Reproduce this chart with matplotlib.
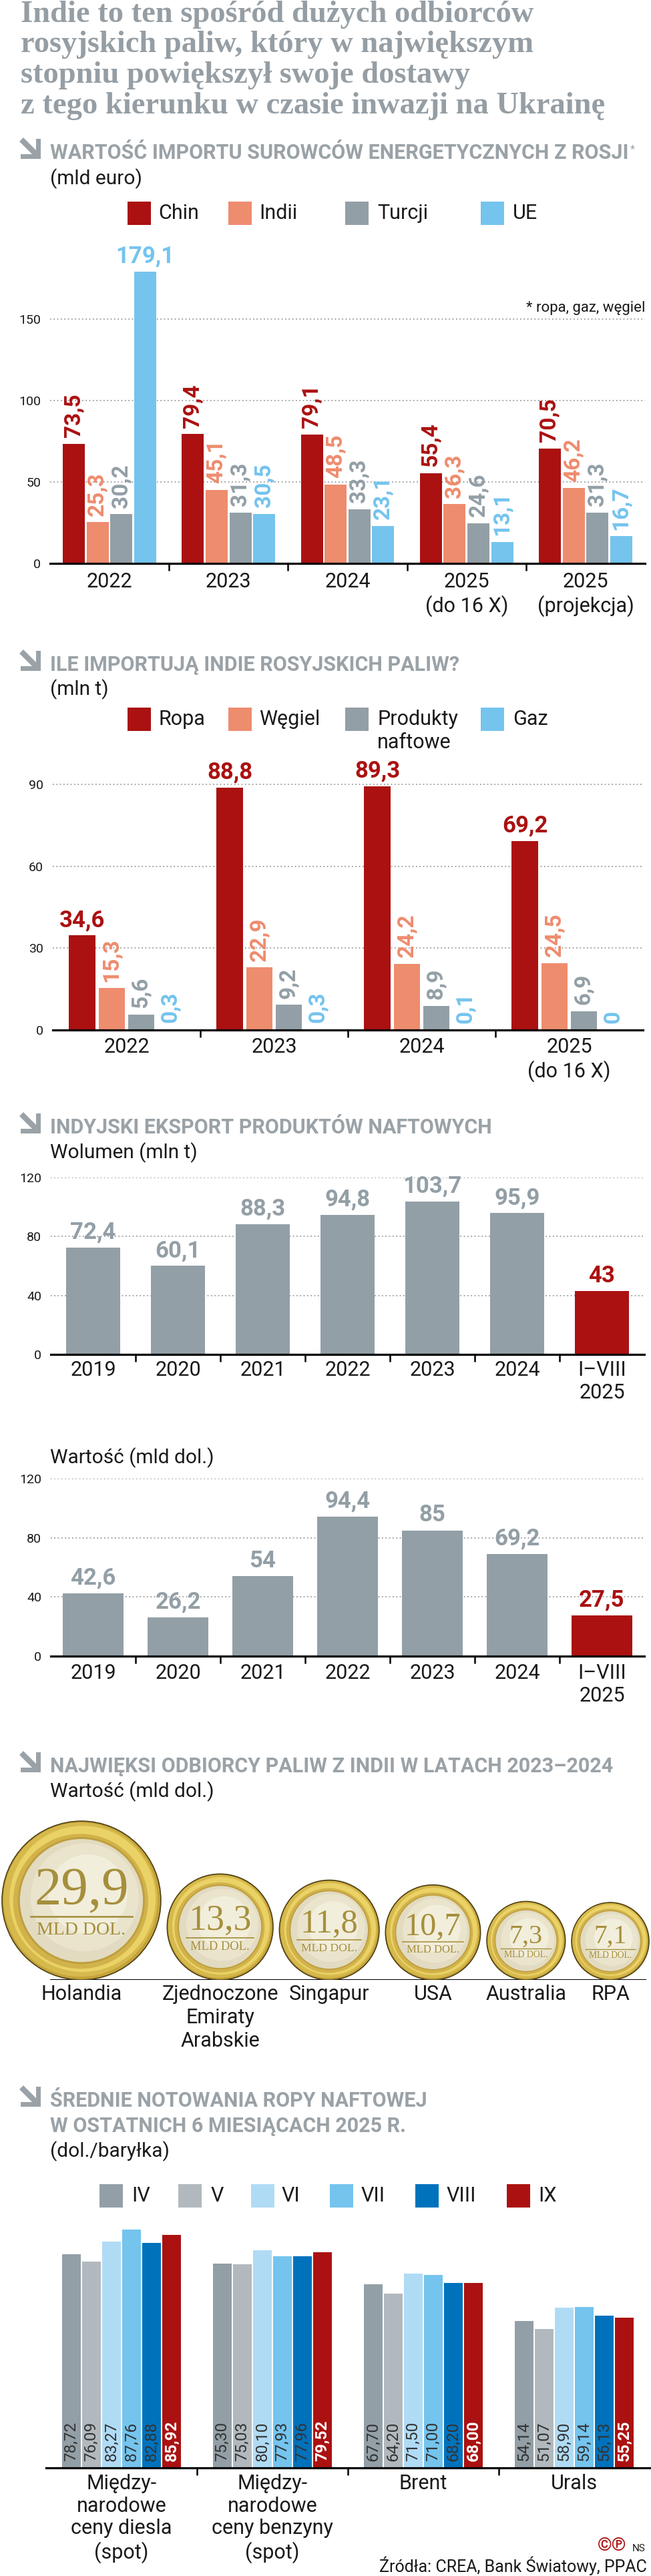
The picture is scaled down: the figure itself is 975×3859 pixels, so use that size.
import numpy as np
import matplotlib
matplotlib.use('Agg')
import matplotlib.pyplot as plt
from matplotlib import font_manager
from matplotlib.patches import Circle, Rectangle, Polygon

# ---------------------------------------------------------------- data
import_years = ['2022', '2023', '2024', '2025\n(do 16 X)', '2025\n(projekcja)']
import_names = ['Chin', 'Indii', 'Turcji', 'UE']
import_chin = [73.5, 79.4, 79.1, 55.4, 70.5]
import_indii = [25.3, 45.1, 48.5, 36.3, 46.2]
import_turcji = [30.2, 31.3, 33.3, 24.6, 31.3]
import_ue = [179.1, 30.5, 23.1, 13.1, 16.7]

india_years = ['2022', '2023', '2024', '2025\n(do 16 X)']
india_names = ['Ropa', 'Węgiel', 'Produkty\nnaftowe', 'Gaz']
india_ropa = [34.6, 88.8, 89.3, 69.2]
india_wegiel = [15.3, 22.9, 24.2, 24.5]
india_produkty = [5.6, 9.2, 8.9, 6.9]
india_gaz = [0.3, 0.3, 0.1, 0]

export_years = ['2019', '2020', '2021', '2022', '2023', '2024', 'I–VIII\n2025']
export_volume = [72.4, 60.1, 88.3, 94.8, 103.7, 95.9, 43]
export_value = [42.6, 26.2, 54, 94.4, 85, 69.2, 27.5]

buyers = ['Holandia', 'Zjednoczone\nEmiraty\nArabskie', 'Singapur', 'USA', 'Australia', 'RPA']
buyer_values = [29.9, 13.3, 11.8, 10.7, 7.3, 7.1]

months = ['IV', 'V', 'VI', 'VII', 'VIII', 'IX']
products = ['Między-\nnarodowe\nceny diesla\n(spot)', 'Między-\nnarodowe\nceny benzyny\n(spot)',
            'Brent', 'Urals']
price_iv = [78.72, 75.30, 67.70, 54.14]
price_v = [76.09, 75.03, 64.20, 51.07]
price_vi = [83.27, 80.10, 71.50, 58.90]
price_vii = [87.76, 77.93, 71.00, 59.14]
price_viii = [82.88, 77.96, 68.20, 56.13]
price_ix = [85.92, 79.52, 68.00, 55.25]

# ---------------------------------------------------------------- style
installed = {f.name for f in font_manager.fontManager.ttflist}
SANS = 'Roboto' if 'Roboto' in installed else 'DejaVu Sans'
SERIF = 'Liberation Serif' if 'Liberation Serif' in installed else 'DejaVu Serif'
plt.rcParams['font.family'] = [SANS, 'DejaVu Sans']

RED = '#ab1111'
SALMON = '#ee8c6e'
GRAY = '#939fa6'
LBLUE = '#74c4ee'
HEAD = '#9aa2a7'
TEXT = '#1a1a1a'
GOLD_TXT = '#a68f3c'
month_colors = [GRAY, '#b1b9be', '#b0dbf5', LBLUE, '#0072bc', RED]

W, H, DPI = 975, 3859, 100
PT = 72 / DPI  # points per pixel

fig = plt.figure(figsize=(W / DPI, H / DPI), dpi=DPI)
fig.patch.set_facecolor('white')

# full-page layer in pixel units for titles, legends, icons
bg = fig.add_axes([0, 0, 1, 1])
bg.set_xlim(0, W)
bg.set_ylim(H, 0)
bg.axis('off')


def fmt(v, nd=1):
    if nd == 1 and float(v).is_integer():
        return str(int(v))
    return f'{v:.{nd}f}'.replace('.', ',')


def px_axes(left, top, right, bottom):
    ax = fig.add_axes([left / W, 1 - bottom / H, (right - left) / W, (bottom - top) / H])
    ax.patch.set_alpha(0)
    return ax


def arrow_icon(x, y, s=30):
    t = 0.24 * s
    bg.add_patch(Polygon([(x + s, y), (x + s, y + s), (x, y + s), (x, y + s - t),
                          (x + s - t, y + s - t), (x + s - t, y)],
                         closed=True, fc=HEAD, ec='none'))
    bg.plot([x + 1, x + s - t], [y + 1, y + s - t], color=HEAD, lw=6,
            solid_capstyle='butt')


def heading(y, lines, sub=None, sub_y=None):
    arrow_icon(31, y - 30)
    texts = []
    for i, line in enumerate(lines):
        texts.append(bg.text(75, y + i * 38, line, fontsize=22, fontweight='bold',
                             color=HEAD, va='baseline'))
    if sub:
        bg.text(75, sub_y, sub, fontsize=21.5, color=TEXT, va='baseline')
    return texts


def legend_row(box_x, lab_x, top, labels, colors, size=35):
    for xb, xl, lab, c in zip(box_x, lab_x, labels, colors):
        bg.add_patch(Rectangle((xb, top), size, size, fc=c, ec='none'))
        for i, part in enumerate(lab.split('\n')):
            bg.text(xl, top + size / 2 + i * 35, part, fontsize=22, color=TEXT,
                    va='center')


def base_axis(ax, cats, ylim, yticks, pad_px):
    n = len(cats)
    ax.set_xlim(-0.5, n - 0.5)
    ax.set_ylim(*ylim)
    for s in ax.spines.values():
        s.set_visible(False)
    ax.axhline(0, color='black', lw=2.3, zorder=6, clip_on=False)
    ax.set_xticks(range(n))
    ax.set_xticklabels(cats, fontsize=22, color=TEXT, linespacing=1.2)
    ax.set_xticks(np.arange(n - 1) + 0.5, minor=True)
    ax.tick_params(axis='x', which='major', length=0, pad=pad_px * PT)
    ax.tick_params(axis='x', which='minor', length=8, width=1.8, color='black')
    if yticks:
        ax.set_yticks(yticks)
        ax.set_yticklabels([str(t) for t in yticks])
        ax.tick_params(axis='y', length=0, labelsize=14, labelcolor=TEXT, pad=10)
        ax.grid(axis='y', linestyle=(0, (1, 2.2)), color='#8c8c8c', lw=1.2)
        ax.set_axisbelow(True)
    else:
        ax.set_yticks([])


def label_rot(ax, x, v, c, size=24, weight='bold', inside=False):
    ax.annotate(fmt(v, 2 if inside else 1), (x, 0 if inside else v),
                xytext=(0, 7), textcoords='offset points',
                rotation=90, ha='center', va='bottom', fontsize=size,
                fontweight=weight, color=c, annotation_clip=False, zorder=7)


def label_flat(ax, x, v, c, size=25):
    ax.annotate(fmt(v), (x, v), xytext=(0, 4.5), textcoords='offset points',
                ha='center', va='bottom', fontsize=size, fontweight='bold',
                color=c, annotation_clip=False, zorder=7)


# ---------------------------------------------------------------- title
title_lines = ['Indie to ten spośród dużych odbiorców',
               'rosyjskich paliw, który w największym',
               'stopniu powiększył swoje dostawy',
               'z tego kierunku w czasie inwazji na Ukrainę']
for i, line in enumerate(title_lines):
    bg.text(31, 33 + i * 45.5, line, fontsize=33.5, fontweight='bold',
            family=SERIF, color='#959ea4', va='baseline')

# ---------------------------------------------------------------- chart 1
h1 = heading(238, ['WARTOŚĆ IMPORTU SUROWCÓW ENERGETYCZNYCH Z ROSJI'],
             '(mld euro)', 276)
legend_row([191, 342, 517, 720], [237, 388, 565, 768], 302, import_names,
           [RED, SALMON, GRAY, LBLUE])
bg.text(966, 467, '* ropa, gaz, węgiel', fontsize=16, color=TEXT, ha='right',
        va='baseline')

ax1 = px_axes(75, 356, 966, 844)
base_axis(ax1, import_years, (0, 200), [0, 50, 100, 150], 13)
x1 = np.arange(len(import_years))
for k, (vals, c) in enumerate(zip([import_chin, import_indii, import_turcji, import_ue],
                                  [RED, SALMON, GRAY, LBLUE])):
    xs = x1 + (k - 1.5) * 0.2
    ax1.bar(xs, vals, width=0.185, color=c, zorder=2)
    for xi, v in zip(xs, vals):
        if v > 150:
            label_flat(ax1, xi, v, c)
        else:
            label_rot(ax1, xi, v, c)

# ---------------------------------------------------------------- chart 2
heading(1005, ['ILE IMPORTUJĄ INDIE ROSYJSKICH PALIW?'], '(mln t)', 1041)
legend_row([191, 342, 517, 720], [237, 388, 565, 768], 1060, india_names,
           [RED, SALMON, GRAY, LBLUE])

ax2 = px_axes(79, 1134, 963, 1543)
base_axis(ax2, india_years, (0, 100), [0, 30, 60, 90], 11)
x2 = np.arange(len(india_years))
for k, (vals, c) in enumerate(zip([india_ropa, india_wegiel, india_produkty, india_gaz],
                                  [RED, SALMON, GRAY, LBLUE])):
    xs = x2 + (k - 1.5) * 0.2
    ax2.bar(xs, vals, width=0.18, color=c, zorder=2)
    for xi, v in zip(xs, vals):
        if k == 0:
            label_flat(ax2, xi, v, c)
        else:
            label_rot(ax2, xi, v, c)

# ---------------------------------------------------------------- chart 3
heading(1698, ['INDYJSKI EKSPORT PRODUKTÓW NAFTOWYCH'], 'Wolumen (mln t)', 1735)
export_colors = [GRAY] * (len(export_years) - 1) + [RED]

ax3 = px_axes(76, 1764, 965, 2029)
base_axis(ax3, export_years, (0, 120), [0, 40, 80, 120], 9)
x3 = np.arange(len(export_years))
ax3.bar(x3, export_volume, width=0.64, color=export_colors, zorder=2)
for xi, v, c in zip(x3, export_volume, export_colors):
    label_flat(ax3, xi, v, c)

bg.text(75, 2192, 'Wartość (mld dol.)', fontsize=21.5, color=TEXT, va='baseline')
ax4 = px_axes(76, 2215, 965, 2481)
base_axis(ax4, export_years, (0, 120), [0, 40, 80, 120], 11)
ax4.bar(x3, export_value, width=0.72, color=export_colors, zorder=2)
for xi, v, c in zip(x3, export_value, export_colors):
    label_flat(ax4, xi, v, c)

# ---------------------------------------------------------------- coins
heading(2655, ['NAJWIĘKSI ODBIORCY PALIW Z INDII W LATACH 2023–2024'],
        'Wartość (mld dol.)', 2692)

axc = px_axes(0, 2700, W, 2966)
axc.set_xlim(0, W)
axc.set_ylim(0, 266)
axc.axis('off')
axc.axhline(0, xmin=76 / W, xmax=966 / W, color='black', lw=2.2, zorder=1)

diam = 43.5 * np.sqrt(buyer_values)
gap = (W - 6 - diam.sum()) / (len(diam) - 1)
left_edges = 3 + np.concatenate([[0], np.cumsum(diam[:-1] + gap)])
# (radius fraction, shift x, shift y, colour) - fake metallic shading
layers = [(0.97, -0.01, 0.01, '#d6b94c'), (0.92, 0.015, 0.02, '#ead266'),
          (0.85, -0.01, -0.01, '#d2b24a'), (0.80, 0.0, 0.0, '#bf9f3e'),
          (0.775, 0.0, 0.0, '#e2dbc1'), (0.68, 0.04, 0.04, '#eae4cd'),
          (0.50, 0.08, 0.08, '#f2eedc')]
for name, v, d, le in zip(buyers, buyer_values, diam, left_edges):
    r = d / 2
    cx, cy = le + r, r
    axc.add_patch(Circle((cx, cy), r, fc='#c4a23a', ec='#4d3f12', lw=1.2, zorder=2))
    for f, sx, sy, col in layers:
        axc.add_patch(Circle((cx + sx * r, cy + sy * r), f * r, fc=col, ec='none', zorder=3))
    axc.text(cx, cy - 0.025 * d, fmt(v), family=SERIF, fontsize=0.34 * d * PT,
             color=GOLD_TXT, ha='center', va='baseline', zorder=4)
    axc.plot([cx - 0.32 * d, cx + 0.32 * d], [cy - 0.1 * d] * 2, color=GOLD_TXT,
             lw=max(1.0, 0.011 * d * PT), zorder=4)
    axc.text(cx, cy - 0.214 * d, 'MLD DOL.', family=SERIF, fontsize=0.117 * d * PT,
             color=GOLD_TXT, ha='center', va='baseline', zorder=4)
    axc.text(cx, -7, name, fontsize=22, color=TEXT, ha='center', va='top',
             linespacing=1.25, clip_on=False)

# ---------------------------------------------------------------- chart 5
heading(3156, ['ŚREDNIE NOTOWANIA ROPY NAFTOWEJ', 'W OSTATNICH 6 MIESIĄCACH 2025 R.'],
        '(dol./baryłka)', 3231)
legend_row([149, 267, 376, 494, 622, 759], [197, 316, 422, 541, 669, 806], 3272,
           months, month_colors)

ax5 = px_axes(69, 3331, 973, 3697)
base_axis(ax5, products, (0, 90), None, 9)
x5 = np.arange(len(products))
step = 0.1327
for k, (vals, c) in enumerate(zip([price_iv, price_v, price_vi, price_vii, price_viii, price_ix],
                                  month_colors)):
    xs = x5 + (k - 2.5) * step
    ax5.bar(xs, vals, width=0.12, color=c, zorder=2)
    last = k == len(months) - 1
    for xi, v in zip(xs, vals):
        label_rot(ax5, xi, v, 'white' if last else '#333333', size=17.5,
                  weight='bold' if last else 'normal', inside=True)

# ---------------------------------------------------------------- footer
bg.text(938, 3813, '©℗', fontsize=20, fontweight='bold', color=RED, ha='right',
        va='center', family=[SANS, 'DejaVu Sans'])
bg.text(947, 3822, 'NS', fontsize=11, color=TEXT, va='baseline')
bg.text(969, 3853, 'Źródła: CREA, Bank Światowy, PPAC', fontsize=18, color=TEXT,
        ha='right', va='baseline')

# asterisk after the first heading
renderer = fig.canvas.get_renderer()
bb = h1[0].get_window_extent(renderer=renderer)
bg.text(bb.x1 + 2, H - bb.y1 + 2, '*', fontsize=12, color=HEAD, va='top')

fig.savefig('out.png', dpi=DPI)
